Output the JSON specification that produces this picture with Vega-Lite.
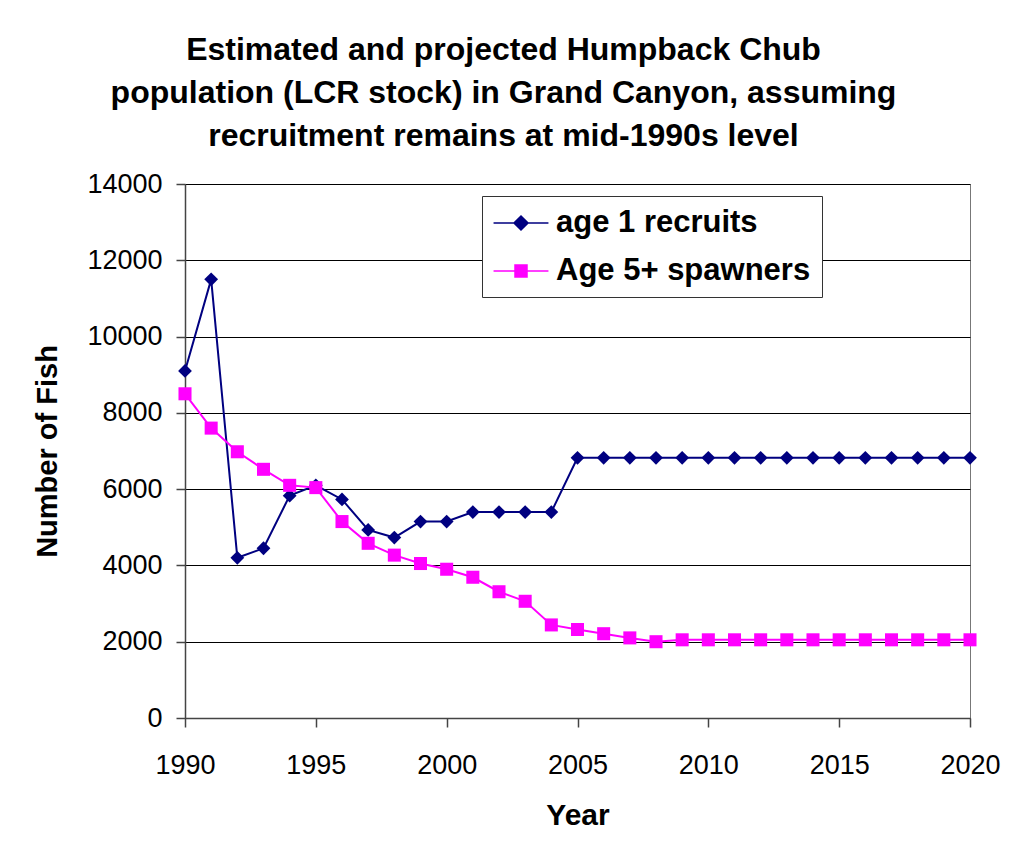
{
  "$schema": "https://vega.github.io/schema/vega-lite/v6.json",
  "width": 785,
  "height": 534,
  "autosize": "none",
  "padding": {"left": 185, "top": 184, "right": 45, "bottom": 133},
  "background": "white",
  "config": {
    "view": {"stroke": "#777", "strokeWidth": 1},
    "font": "Liberation Sans"
  },
  "title": {
    "text": [
      "Estimated and projected Humpback Chub",
      "population (LCR stock) in Grand Canyon, assuming",
      "recruitment remains at mid-1990s level"
    ],
    "font": "Liberation Sans",
    "fontSize": 32,
    "fontWeight": "bold",
    "color": "black",
    "lineHeight": 43,
    "anchor": "middle",
    "dx": -74,
    "offset": 17
  },
  "data": {
    "values": [
      {"year": 1990, "series": "age 1 recruits", "value": 9100},
      {"year": 1991, "series": "age 1 recruits", "value": 11500},
      {"year": 1992, "series": "age 1 recruits", "value": 4200},
      {"year": 1993, "series": "age 1 recruits", "value": 4450},
      {"year": 1994, "series": "age 1 recruits", "value": 5830},
      {"year": 1995, "series": "age 1 recruits", "value": 6100},
      {"year": 1996, "series": "age 1 recruits", "value": 5730},
      {"year": 1997, "series": "age 1 recruits", "value": 4930},
      {"year": 1998, "series": "age 1 recruits", "value": 4730},
      {"year": 1999, "series": "age 1 recruits", "value": 5150},
      {"year": 2000, "series": "age 1 recruits", "value": 5150},
      {"year": 2001, "series": "age 1 recruits", "value": 5400},
      {"year": 2002, "series": "age 1 recruits", "value": 5400},
      {"year": 2003, "series": "age 1 recruits", "value": 5400},
      {"year": 2004, "series": "age 1 recruits", "value": 5400},
      {"year": 2005, "series": "age 1 recruits", "value": 6820},
      {"year": 2006, "series": "age 1 recruits", "value": 6820},
      {"year": 2007, "series": "age 1 recruits", "value": 6820},
      {"year": 2008, "series": "age 1 recruits", "value": 6820},
      {"year": 2009, "series": "age 1 recruits", "value": 6820},
      {"year": 2010, "series": "age 1 recruits", "value": 6820},
      {"year": 2011, "series": "age 1 recruits", "value": 6820},
      {"year": 2012, "series": "age 1 recruits", "value": 6820},
      {"year": 2013, "series": "age 1 recruits", "value": 6820},
      {"year": 2014, "series": "age 1 recruits", "value": 6820},
      {"year": 2015, "series": "age 1 recruits", "value": 6820},
      {"year": 2016, "series": "age 1 recruits", "value": 6820},
      {"year": 2017, "series": "age 1 recruits", "value": 6820},
      {"year": 2018, "series": "age 1 recruits", "value": 6820},
      {"year": 2019, "series": "age 1 recruits", "value": 6820},
      {"year": 2020, "series": "age 1 recruits", "value": 6820},
      {"year": 1990, "series": "Age 5+ spawners", "value": 8500},
      {"year": 1991, "series": "Age 5+ spawners", "value": 7600},
      {"year": 1992, "series": "Age 5+ spawners", "value": 6980},
      {"year": 1993, "series": "Age 5+ spawners", "value": 6520},
      {"year": 1994, "series": "Age 5+ spawners", "value": 6100},
      {"year": 1995, "series": "Age 5+ spawners", "value": 6040},
      {"year": 1996, "series": "Age 5+ spawners", "value": 5150},
      {"year": 1997, "series": "Age 5+ spawners", "value": 4580},
      {"year": 1998, "series": "Age 5+ spawners", "value": 4270},
      {"year": 1999, "series": "Age 5+ spawners", "value": 4050},
      {"year": 2000, "series": "Age 5+ spawners", "value": 3900},
      {"year": 2001, "series": "Age 5+ spawners", "value": 3690},
      {"year": 2002, "series": "Age 5+ spawners", "value": 3310},
      {"year": 2003, "series": "Age 5+ spawners", "value": 3060},
      {"year": 2004, "series": "Age 5+ spawners", "value": 2440},
      {"year": 2005, "series": "Age 5+ spawners", "value": 2320},
      {"year": 2006, "series": "Age 5+ spawners", "value": 2210},
      {"year": 2007, "series": "Age 5+ spawners", "value": 2100},
      {"year": 2008, "series": "Age 5+ spawners", "value": 2000},
      {"year": 2009, "series": "Age 5+ spawners", "value": 2050},
      {"year": 2010, "series": "Age 5+ spawners", "value": 2050},
      {"year": 2011, "series": "Age 5+ spawners", "value": 2050},
      {"year": 2012, "series": "Age 5+ spawners", "value": 2050},
      {"year": 2013, "series": "Age 5+ spawners", "value": 2050},
      {"year": 2014, "series": "Age 5+ spawners", "value": 2050},
      {"year": 2015, "series": "Age 5+ spawners", "value": 2050},
      {"year": 2016, "series": "Age 5+ spawners", "value": 2050},
      {"year": 2017, "series": "Age 5+ spawners", "value": 2050},
      {"year": 2018, "series": "Age 5+ spawners", "value": 2050},
      {"year": 2019, "series": "Age 5+ spawners", "value": 2050},
      {"year": 2020, "series": "Age 5+ spawners", "value": 2050}
    ]
  },
  "encoding": {
    "x": {
      "field": "year",
      "type": "quantitative",
      "scale": {"domain": [1990, 2020], "nice": false, "zero": false},
      "axis": {
        "values": [1990, 1995, 2000, 2005, 2010, 2015, 2020],
        "format": "d",
        "grid": false,
        "domainColor": "#444",
        "domainWidth": 1.5,
        "tickColor": "#444",
        "tickSize": 9,
        "tickWidth": 1.5,
        "labelFont": "Liberation Sans",
        "labelFontSize": 27,
        "labelColor": "black",
        "labelPadding": 25,
        "labelFlush": false,
        "labelOverlap": false,
        "title": "Year",
        "titleFont": "Liberation Sans",
        "titleFontSize": 30,
        "titleFontWeight": "bold",
        "titleColor": "black",
        "titlePadding": 22
      }
    },
    "y": {
      "field": "value",
      "type": "quantitative",
      "scale": {"domain": [0, 14000], "nice": false},
      "axis": {
        "values": [0, 2000, 4000, 6000, 8000, 10000, 12000, 14000],
        "grid": true,
        "gridColor": "#000",
        "gridWidth": 1,
        "domainColor": "#444",
        "domainWidth": 1.5,
        "tickColor": "#444",
        "tickSize": 9,
        "tickWidth": 1.5,
        "format": "d",
        "labelFont": "Liberation Sans",
        "labelFontSize": 27,
        "labelColor": "black",
        "labelPadding": 14,
        "labelOverlap": false,
        "title": "Number of Fish",
        "titleFont": "Liberation Sans",
        "titleFontSize": 29,
        "titleFontWeight": "bold",
        "titleColor": "black",
        "titlePadding": 24
      }
    }
  },
  "layer": [
    {
      "mark": {"type": "line", "strokeWidth": 2},
      "encoding": {
        "color": {
          "field": "series",
          "type": "nominal",
          "scale": {"domain": ["age 1 recruits", "Age 5+ spawners"], "range": ["#000080", "#FF00FF"]},
          "legend": {
            "orient": "none",
            "legendX": 297,
            "legendY": 12,
            "title": null,
            "labelFont": "Liberation Sans",
            "labelFontSize": 31,
            "labelFontWeight": "bold",
            "labelColor": "black",
            "labelLimit": 500,
            "labelOffset": 31,
            "strokeColor": "#333",
            "fillColor": "white",
            "padding": 11,
            "rowPadding": 17,
            "symbolSize": 900,
            "symbolStrokeWidth": 1.5,
            "symbolOpacity": 1,
            "encode": {
              "symbols": {
                "update": {
                  "shape": {"signal": "datum.value === 'age 1 recruits' ? 'M-1.03,0L2.63,0M0.8,-0.47L1.27,0L0.8,0.47L0.33,0Z' : 'M-1.03,0L2.63,0M0.4,-0.4L1.2,-0.4L1.2,0.4L0.4,0.4Z'"},
                  "fill": {"signal": "datum.value === 'age 1 recruits' ? '#000080' : '#FF00FF'"},
                  "stroke": {"signal": "datum.value === 'age 1 recruits' ? '#000080' : '#FF00FF'"},
                  "strokeWidth": {"value": 1.5},
                  "size": {"value": 900},
                  "opacity": {"value": 1},
                  "fillOpacity": {"value": 1},
                  "strokeOpacity": {"value": 1}
                }
              }
            }
          }
        }
      }
    },
    {
      "transform": [{"filter": "datum.series === 'age 1 recruits'"}],
      "mark": {"type": "point", "shape": "diamond", "size": 190, "filled": true, "opacity": 1, "strokeWidth": 0, "fill": "#000080"},
      "encoding": {}
    },
    {
      "transform": [{"filter": "datum.series === 'Age 5+ spawners'"}],
      "mark": {"type": "point", "shape": "square", "size": 170, "filled": true, "opacity": 1, "strokeWidth": 0, "fill": "#FF00FF"},
      "encoding": {}
    }
  ]
}
